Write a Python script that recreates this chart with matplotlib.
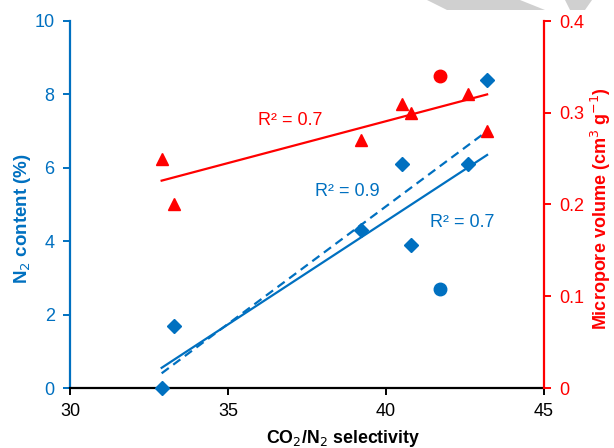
import matplotlib
matplotlib.use("Agg")
import matplotlib.pyplot as plt
from matplotlib.patches import Polygon

plt.rcParams['font.family'] = ['Liberation Sans', 'DejaVu Sans']
plt.rcParams['axes.unicode_minus'] = False

BLUE = '#0070C0'
RED = '#FF0000'

# N2 content (diamonds) vs selectivity
sel_diamond = [32.9, 33.3, 39.2, 40.5, 40.8, 42.6, 43.2]
n2_diamond = [0.0, 1.7, 4.3, 6.1, 3.9, 6.1, 8.4]
# outlier sample (circles)
sel_circle = [41.7]
n2_circle = [2.7]
vmic_circle = [0.34]
# micropore volume (triangles)
sel_tri = [32.9, 33.3, 39.2, 40.5, 40.8, 42.6, 43.2]
vmic_tri = [0.25, 0.20, 0.27, 0.31, 0.30, 0.32, 0.28]

# trend lines (endpoints)
trend_x = [32.9, 43.2]
trend_n2_all = [0.55, 6.35]
trend_n2_diamond = [0.40, 7.0]
trend_vmic = [0.226, 0.32]

fig = plt.figure(figsize=(6.14, 4.48), dpi=100)
ax = fig.add_axes([70 / 614, 1 - 388 / 448, 474 / 614, 367 / 448])
ax2 = ax.twinx()

ax.plot(trend_x, trend_n2_all, color=BLUE, lw=1.6, zorder=2)
ax.plot(trend_x, trend_n2_diamond, color=BLUE, lw=1.6, ls=(0, (4, 2.5)), zorder=2)
ax.plot(sel_diamond, n2_diamond, 'D', color=BLUE, ms=7, ls='none', zorder=3, clip_on=False)
ax.plot(sel_circle, n2_circle, 'o', color=BLUE, ms=9, ls='none', zorder=3)

ax2.plot(trend_x, trend_vmic, color=RED, lw=1.6, zorder=2)
ax2.plot(sel_tri, vmic_tri, '^', color=RED, ms=9, ls='none', zorder=3)
ax2.plot(sel_circle, vmic_circle, 'o', color=RED, ms=9, ls='none', zorder=3)

ax.set_xlim(30, 45)
ax.set_ylim(0, 10)
ax2.set_ylim(0, 0.4)
ax.set_xticks([30, 35, 40, 45])
ax.set_yticks([0, 2, 4, 6, 8, 10])
ax2.set_yticks([0, 0.1, 0.2, 0.3, 0.4])
ax2.set_yticklabels(['0', '0.1', '0.2', '0.3', '0.4'])

for a in (ax, ax2):
    a.spines['top'].set_visible(False)
    for s in a.spines.values():
        s.set_linewidth(1.6)
ax.spines['left'].set_color(BLUE)
ax.spines['right'].set_visible(False)
ax.spines['bottom'].set_color('black')
ax2.spines['left'].set_visible(False)
ax2.spines['bottom'].set_visible(False)
ax2.spines['right'].set_color(RED)

ax.tick_params(axis='x', colors='black', labelsize=13, length=5, width=1.4, pad=6)
ax.tick_params(axis='y', colors=BLUE, labelsize=13, length=5, width=1.4, pad=6)
ax2.tick_params(axis='y', colors=RED, labelsize=13, length=5, width=1.4, pad=6)

ax.set_xlabel('CO$_2$/N$_2$ selectivity', fontsize=12.8, fontweight='bold', va='top')
ax.xaxis.set_label_coords(0.576, -0.108)
ax.set_ylabel('N$_2$ content (%)', fontsize=13.5, fontweight='bold', color=BLUE, va='center')
ax.yaxis.set_label_coords(-0.101, 0.463)
ax2.set_ylabel('Micropore volume (cm$^3$ g$^{-1}$)', fontsize=13, fontweight='bold', color=RED, va='center')
ax2.yaxis.set_label_coords(1.12, 0.488)

ax.text(35.95, 7.3, 'R² = 0.7', color=RED, fontsize=13, va='center')
ax.text(37.75, 5.35, 'R² = 0.9', color=BLUE, fontsize=13, va='center')
ax.text(41.4, 4.52, 'R² = 0.7', color=BLUE, fontsize=13, va='center')

# faint watermark at the top edge
wm = '#d0d0d0'
for pts in ([(427, 0), (520, 0), (545, 10), (447, 10)], [(565, 0), (592, 0), (585, 10), (570, 10)]):
    fig.patches.append(Polygon([(x / 614, 1 - y / 448) for x, y in pts], closed=True,
                               transform=fig.transFigure, color=wm, lw=0, zorder=0))

fig.savefig('out.png', dpi=100)
